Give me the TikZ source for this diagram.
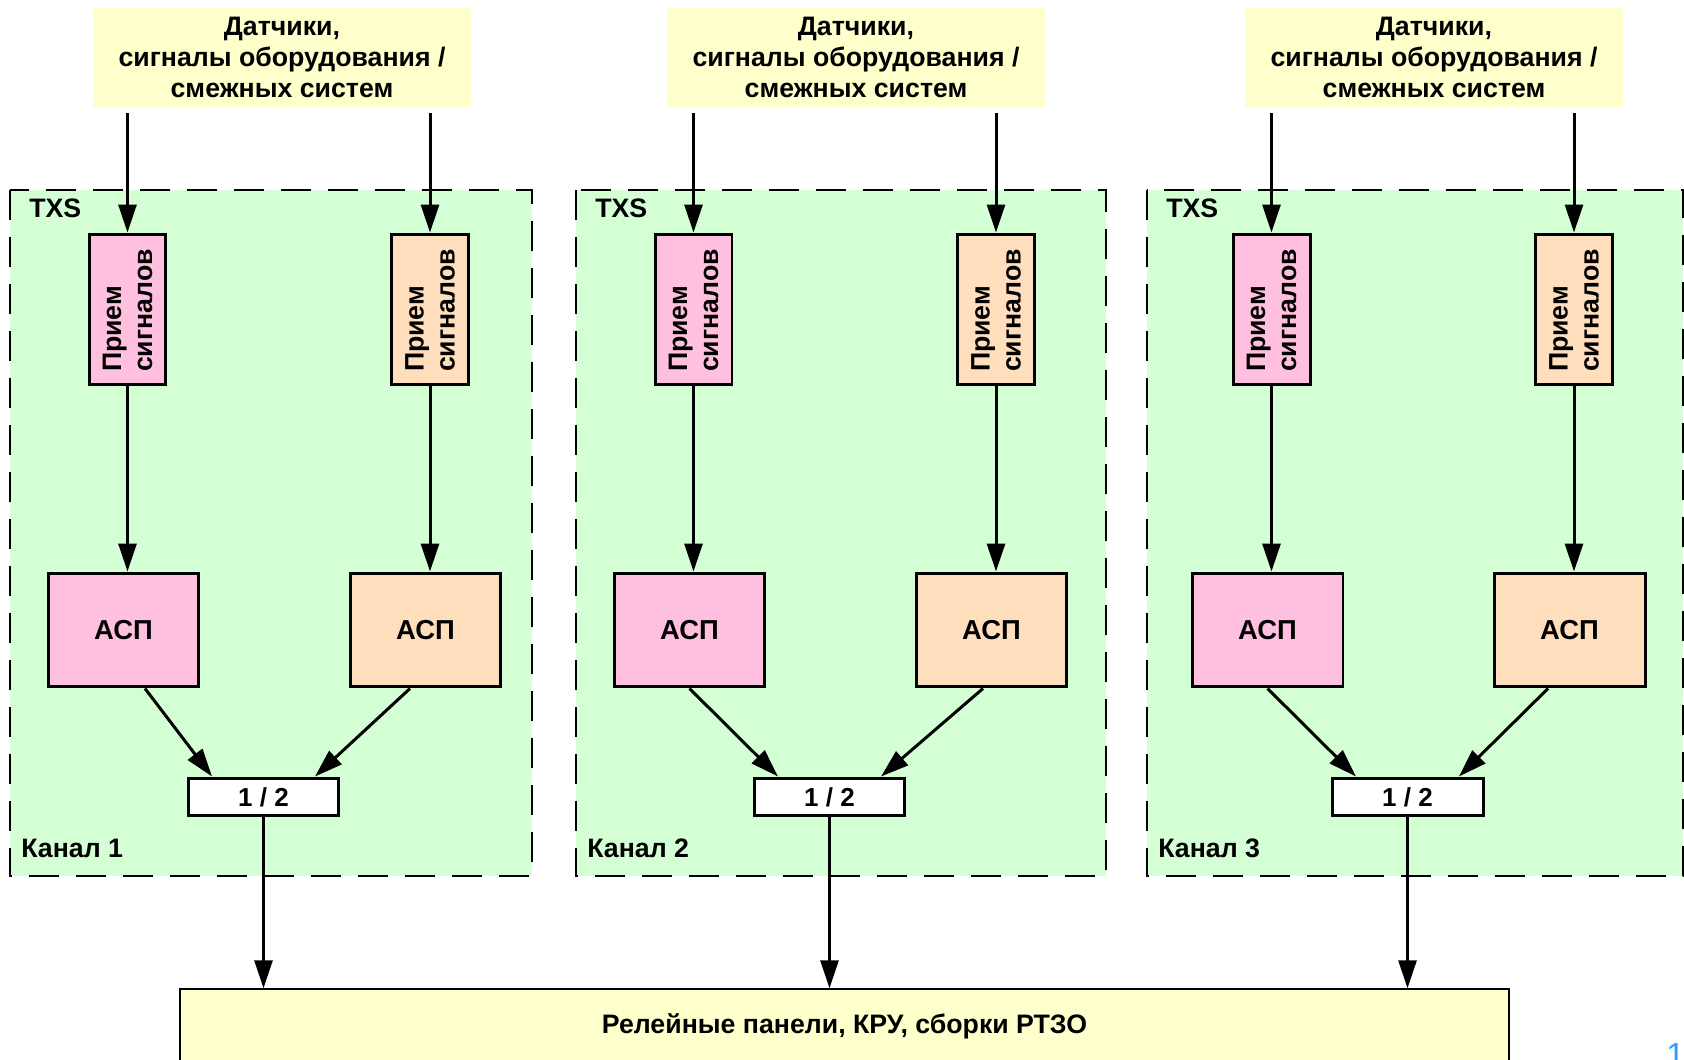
\documentclass[tikz,border=0pt]{standalone}
\usepackage{fontspec}
\setmainfont{Liberation Sans}
\usetikzlibrary{positioning,arrows.meta,calc}
\definecolor{txsgreen}{RGB}{212,255,212}
\definecolor{srcyellow}{RGB}{255,255,204}
\definecolor{setpink}{RGB}{255,192,224}
\definecolor{setpeach}{RGB}{255,222,189}
\definecolor{pagenum}{RGB}{51,153,255}

\begin{document}
\begin{tikzpicture}[x=0.02cm,y=-0.02cm,
	every node/.style={font=\bfseries\fontsize{15.2}{17.6}\selectfont},
	src/.style={fill=srcyellow, minimum width=7.56cm, minimum height=1.98cm, align=center},
	chan/.style={draw, fill=txsgreen, line width=0.04cm, dash pattern=on 0.6cm off 0.34cm},
	box/.style={draw, line width=0.06cm, inner sep=0pt},
	recv/.style={box, minimum width=1.54cm, minimum height=3.02cm},
	asp/.style={box, minimum width=3.02cm, minimum height=2.28cm,
		font=\bfseries\fontsize{15.6}{18}\selectfont},
	vote/.style={box, fill=white, minimum width=3.02cm, minimum height=0.76cm,
		font=\bfseries\fontsize{14.8}{17}\selectfont},
	arr/.style={line width=0.06cm, -{Triangle[length=0.56cm,width=0.36cm]}}
	]
	%% some definitions
	\def\chtop{190} % top of channel frames
	\def\chh{686} % height of channel frames

	\useasboundingbox (0,0) rectangle (1684,1060);
	\clip (0,0) rectangle (1684,1060);

	% output to relay panels
	\node[draw, line width=0.03cm, fill=srcyellow, minimum width=26.58cm, minimum height=1.5cm] (out) at (844.5,1026.5) {Релейные панели, КРУ, сборки РТЗО};

	\foreach \n/\dx/\bx/\bw/\tx/\la/\ra in {1/0/10/522/282/0.43cm/-0.31cm, 2/566/576/530/856/0cm/-0.17cm, 3/1144/1147/536/1434/0cm/-0.43cm}{
		\draw[chan] (\bx,\chtop) rectangle ++(\bw,\chh);
		\node[anchor=base west, inner sep=0] (txs\n) at (\bx+19,218) {TXS};
		\node[anchor=base west, inner sep=0] (kan\n) at (\bx+11,857) {Канал \n};

		\node[src] (src\n) at (\tx,57.5) {Датчики,\\сигналы оборудования /\\смежных систем};

		\node[recv, fill=setpink] (pL\n) at (127.5+\dx,309.5) {};
		\node[recv, fill=setpeach] (pR\n) at (430+\dx,309.5) {};
		\node[rotate=90, text width=2.5cm, align=left, inner sep=0] (tL\n) at (pL\n) {Прием\\сигналов};
		\node[rotate=90, text width=2.5cm, align=left, inner sep=0] (tR\n) at (pR\n) {Прием\\сигналов};

		\node[asp, fill=setpink] (aL\n) at (123.5+\dx,630) {АСП};
		\node[asp, fill=setpeach] (aR\n) at (425.5+\dx,630) {АСП};

		\node[vote] (v\n) at (263.5+\dx,797) {1 / 2};

		% connections
		\draw[arr] ($(pL\n.north |- src\n.south)+(0,6)$) -- (pL\n.north);
		\draw[arr] ($(pR\n.north |- src\n.south)+(0,6)$) -- (pR\n.north);
		\draw[arr] (pL\n.south) -- (pL\n.south |- aL\n.north);
		\draw[arr] (pR\n.south) -- (pR\n.south |- aR\n.north);
		\draw[arr] ([xshift=\la]aL\n.south) -- ([xshift=-1.03cm]v\n.north);
		\draw[arr] ([xshift=\ra]aR\n.south) -- ([xshift=1.03cm]v\n.north);
		\draw[arr] (v\n.south) -- (v\n.south |- out.north);
	}

	\node[anchor=base west, inner sep=0, text=pagenum, font=\fontsize{19}{22}\selectfont] (pg) at (1666,1066) {1};
\end{tikzpicture}
\end{document}
